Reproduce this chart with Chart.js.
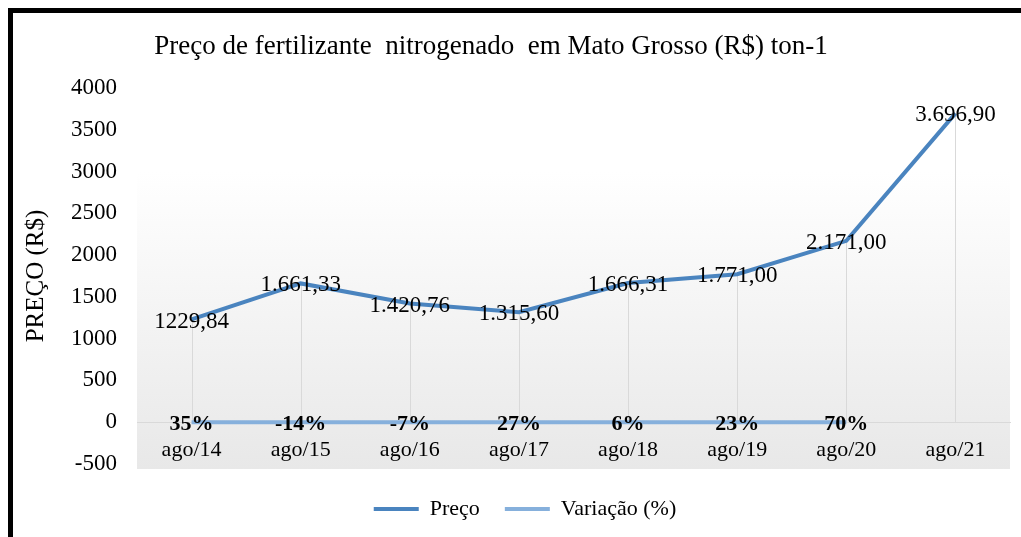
<!DOCTYPE html>
<html>
<head>
<meta charset="utf-8">
<script src="https://cdn.jsdelivr.net/npm/chart.js@4.4.0/dist/chart.umd.min.js"></script>
<style>
    html, body { margin: 0; padding: 0; background: #fff; }
    #wrap { position: relative; width: 1021px; height: 537px; overflow: hidden; }
    #frame {
        position: absolute; left: 8px; top: 8px; right: -10px; bottom: -10px;
        border-left: 5px solid #000; border-top: 5px solid #000;
        pointer-events: none;
    }
</style>
</head>
<body>
<div id="wrap">
    <canvas id="fertChart" width="1021" height="537"></canvas>
    <div id="frame"></div>
</div>
<script>
// -------------------------
// DATA
// -------------------------
const categories = ["ago/14", "ago/15", "ago/16", "ago/17", "ago/18", "ago/19", "ago/20", "ago/21"];
const precoValues = [1229.84, 1661.33, 1420.76, 1315.60, 1666.31, 1771.00, 2171.00, 3696.90];
const precoLabels = ["1229,84", "1.661,33", "1.420,76", "1.315,60", "1.666,31", "1.771,00", "2.171,00", "3.696,90"];
// variation stored as fractions (shown as %)
const variacaoValues = [0.35, -0.14, -0.07, 0.27, 0.06, 0.23, 0.70];
const yTicks = { min: -500, max: 4000, step: 500 };

const SERIF = "'Liberation Serif', 'Times New Roman', serif";

// -------------------------
// PLUGINS
// -------------------------
const plotBackground = {
    id: "plotBackground",
    beforeDraw(chart) {
        const { ctx, chartArea: a } = chart;
        const bottom = a.bottom + 5;
        const grad = ctx.createLinearGradient(0, a.top, 0, bottom);
        grad.addColorStop(0, "#ffffff");
        grad.addColorStop(0.22, "#ffffff");
        grad.addColorStop(1, "#e8e8e8");
        ctx.save();
        ctx.fillStyle = grad;
        ctx.fillRect(a.left, a.top, a.right - a.left, bottom - a.top);
        ctx.restore();
    }
};

const dropLines = {
    id: "dropLines",
    beforeDatasetsDraw(chart) {
        const { ctx } = chart;
        const y0 = chart.scales.y.getPixelForValue(0);
        ctx.save();
        ctx.strokeStyle = "#d9d9d9";
        ctx.lineWidth = 1;
        chart.getDatasetMeta(0).data.forEach(pt => {
            const x = Math.round(pt.x) + 0.5;
            ctx.beginPath();
            ctx.moveTo(x, pt.y);
            ctx.lineTo(x, y0);
            ctx.stroke();
        });
        ctx.restore();
    }
};

const pointLabels = {
    id: "pointLabels",
    afterDatasetsDraw(chart) {
        const { ctx } = chart;
        ctx.save();
        ctx.fillStyle = "#000";
        ctx.textAlign = "center";
        ctx.textBaseline = "middle";
        ctx.font = "23px " + SERIF;
        chart.getDatasetMeta(0).data.forEach((pt, i) => {
            ctx.fillText(precoLabels[i], pt.x, pt.y + 2);
        });
        ctx.font = "bold 22px " + SERIF;
        chart.getDatasetMeta(1).data.forEach((pt, i) => {
            ctx.fillText(Math.round(variacaoValues[i] * 100) + "%", pt.x, pt.y + 2);
        });
        ctx.restore();
    }
};

const chartTitle = {
    id: "chartTitle",
    afterDraw(chart) {
        const { ctx } = chart;
        ctx.save();
        ctx.fillStyle = "#000";
        ctx.textAlign = "center";
        ctx.textBaseline = "middle";
        ctx.font = "27px " + SERIF;
        ctx.fillText("Preço de fertilizante  nitrogenado  em Mato Grosso (R$) ton-1", 491, 47);
        ctx.restore();
    }
};

// -------------------------
// CHART
// -------------------------
const ctx = document.getElementById("fertChart").getContext("2d");

new Chart(ctx, {
    type: "line",
    data: {
        labels: categories,
        datasets: [{
            label: "Preço",
            data: precoValues,
            borderColor: "#4a84bf",
            backgroundColor: "#4a84bf",
            borderWidth: 4,
            tension: 0,
            pointRadius: 0
        }, {
            label: "Variação (%)",
            data: variacaoValues,
            borderColor: "#86b0dc",
            backgroundColor: "#86b0dc",
            borderWidth: 4,
            tension: 0,
            pointRadius: 0
        }]
    },
    options: {
        responsive: false,
        animation: false,
        layout: {
            padding: { left: 40, right: 11, top: 88, bottom: 7 }
        },
        scales: {
            x: {
                position: { y: 0 },
                offset: true,
                grid: { display: false, drawTicks: false, tickLength: 0 },
                border: { display: true, color: "#d9d9d9", width: 1 },
                ticks: {
                    color: "#000",
                    padding: 15,
                    font: { family: SERIF, size: 22 }
                }
            },
            y: {
                min: yTicks.min,
                max: yTicks.max,
                grid: { display: false, drawTicks: false },
                border: { display: false },
                ticks: {
                    stepSize: yTicks.step,
                    color: "#000",
                    padding: 20,
                    font: { family: SERIF, size: 23 },
                    callback: value => String(value)
                },
                title: {
                    display: true,
                    text: "PREÇO (R$)",
                    color: "#000",
                    padding: { top: -19, bottom: 0 },
                    font: { family: SERIF, size: 25 }
                },
                afterFit(scale) {
                    scale.width = 97;
                }
            }
        },
        plugins: {
            title: { display: false },
            tooltip: { enabled: false },
            legend: {
                position: "bottom",
                title: {
                    display: true,
                    text: "",
                    padding: 0,
                    font: { size: 9, lineHeight: 1 }
                },
                labels: {
                    usePointStyle: true,
                    pointStyle: "line",
                    pointStyleWidth: 45,
                    padding: 25,
                    color: "#000",
                    font: { family: SERIF, size: 22 }
                }
            }
        }
    },
    plugins: [plotBackground, dropLines, pointLabels, chartTitle]
});
</script>
</body>
</html>
